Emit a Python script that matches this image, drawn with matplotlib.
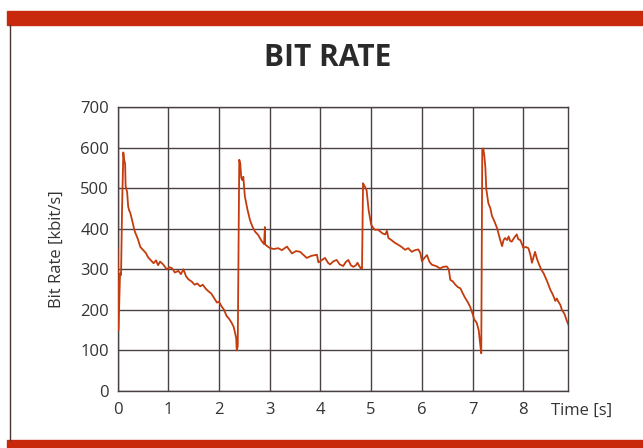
import matplotlib
matplotlib.use("Agg")
import matplotlib.pyplot as plt
import matplotlib.patches as mpatches

plt.rcParams['font.family'] = ['Open Sans', 'DejaVu Sans']

# ------------------------------------------------------------
#  Data
# ------------------------------------------------------------
time_s = [
    0.00, 0.01, 0.02, 0.05, 0.07, 0.09, 0.115, 0.13, 0.15, 0.16, 0.19, 0.21, 0.23, 0.25,
    0.29, 0.33, 0.345, 0.40, 0.45, 0.51, 0.56, 0.60, 0.66, 0.71, 0.76, 0.80, 0.84,
    0.90, 0.97, 1.03, 1.08, 1.13, 1.20, 1.25, 1.30, 1.35, 1.40, 1.46, 1.52, 1.57,
    1.63, 1.68, 1.74, 1.79, 1.85, 1.91, 1.96, 2.00, 2.05, 2.10, 2.15, 2.20, 2.25,
    2.29, 2.32, 2.34, 2.35, 2.37, 2.40,
    2.42, 2.44, 2.46, 2.48, 2.51, 2.56, 2.61, 2.66, 2.71, 2.77, 2.84, 2.89, 2.905,
    2.91, 2.92, 2.96, 3.01, 3.08, 3.17, 3.24, 3.34, 3.40, 3.44, 3.52, 3.60, 3.67,
    3.73, 3.82, 3.93, 3.96, 4.02, 4.09, 4.15, 4.19, 4.26, 4.32, 4.38, 4.45, 4.50,
    4.55, 4.60, 4.65, 4.70, 4.73, 4.77, 4.80, 4.82,
    4.84, 4.87, 4.91, 4.95, 5.00, 5.04, 5.08, 5.13, 5.18, 5.23, 5.28, 5.31, 5.34,
    5.40, 5.47, 5.54, 5.60, 5.67, 5.73, 5.80, 5.86, 5.93, 5.97, 6.00, 6.05, 6.10,
    6.15, 6.20, 6.28, 6.36, 6.42, 6.49, 6.53, 6.56, 6.61, 6.66, 6.71, 6.76, 6.80,
    6.85, 6.90, 6.95, 7.00, 7.03, 7.08, 7.12, 7.14, 7.17, 7.19,
    7.21, 7.23, 7.25, 7.27, 7.31, 7.35, 7.38, 7.43, 7.48, 7.54, 7.58, 7.61, 7.64,
    7.68, 7.71, 7.74, 7.77, 7.82, 7.87, 7.90, 7.94, 8.00, 8.05, 8.10, 8.14, 8.17,
    8.20, 8.23, 8.27, 8.30, 8.35, 8.40, 8.47, 8.53, 8.58, 8.63, 8.66, 8.69, 8.73,
    8.76, 8.81, 8.86, 8.89,
]
bit_rate = [
    352, 250, 150, 290, 286, 450, 588, 570, 560, 505, 490, 455, 445, 440,
    420, 398, 392, 375, 355, 347, 340, 330, 322, 315, 322, 310, 319,
    312, 300, 305, 302, 292, 296, 288, 300, 283, 275, 270, 262, 265,
    258, 262, 252, 246, 240, 228, 218, 220, 209, 200, 185, 178, 168,
    158, 142, 130, 100, 110, 570,
    560, 525, 520, 528, 480, 448, 422, 405, 393, 385, 370, 362, 404,
    362, 360, 356, 352, 350, 352, 347, 356, 346, 339, 345, 343, 335,
    328, 333, 336, 317, 322, 328, 316, 312, 320, 323, 312, 308, 318,
    323, 310, 306, 310, 316, 307, 302, 302,
    512, 505, 495, 446, 410, 402, 397, 398, 393, 388, 386, 395, 377,
    372, 365, 360, 355, 348, 352, 343, 347, 349, 340, 320, 328, 335,
    318, 311, 308, 302, 306, 307, 300, 274, 270, 262, 256, 253, 242,
    230, 220, 208, 190, 177, 168, 150, 126, 93, 594,
    598, 580, 553, 497, 463, 450, 432, 418, 402, 374, 357, 372, 377,
    372, 381, 370, 368, 378, 386, 374, 372, 353, 355, 352, 335, 316,
    330, 343, 325, 315, 300, 290, 270, 250, 238, 222, 228, 220, 212,
    200, 190, 172, 163,
]

x_ticks = [0, 1, 2, 3, 4, 5, 6, 7, 8]
y_ticks = [0, 100, 200, 300, 400, 500, 600, 700]

line_color = '#c43c0e'
grid_color = '#4a4242'
band_color = '#c8290c'
text_color = '#333333'

# ------------------------------------------------------------
#  Figure
# ------------------------------------------------------------
fig = plt.figure(figsize=(6.43, 4.48), dpi=100)

# red bands and left rule, as in the printed page
fig.patches.append(mpatches.Rectangle((7 / 643, 1 - 25 / 448), 1, 14 / 448,
                                      transform=fig.transFigure, color=band_color, zorder=0))
fig.patches.append(mpatches.Rectangle((7 / 643, 0), 1, 8 / 448,
                                      transform=fig.transFigure, color=band_color, zorder=0))
fig.lines.append(plt.Line2D([9.5 / 643, 9.5 / 643], [8 / 448, 1 - 25 / 448],
                            transform=fig.transFigure, color='#4a3530', lw=1.0))

ax = fig.add_axes([117.5 / 643, (448 - 391) / 448, 450.5 / 643, 284 / 448])
ax.plot(time_s, bit_rate, color=line_color, lw=1.3, zorder=3)

ax.set_xlim(0, 8.88)
ax.set_ylim(0, 700)
ax.set_xticks(x_ticks)
ax.set_yticks(y_ticks)
ax.tick_params(length=0, labelsize=12, labelcolor=text_color, pad=6)
ax.tick_params(axis='x', pad=8)
ax.grid(True, color=grid_color, lw=1.0)
for s in ax.spines.values():
    s.set_color(grid_color)
    s.set_linewidth(1.0)

ax.set_ylabel('Bit Rate [kbit/s]', fontsize=12, color=text_color, labelpad=11)
ax.text(0.962, -0.07, 'Time [s]', transform=ax.transAxes, fontsize=12,
        color=text_color, ha='left', va='center')

fig.text(328 / 643, 1 - 58 / 448, 'BIT RATE', fontsize=21.5, fontweight='bold',
         color='#2a2a2a', ha='center', va='center')

plt.savefig('out.png', dpi=100)
